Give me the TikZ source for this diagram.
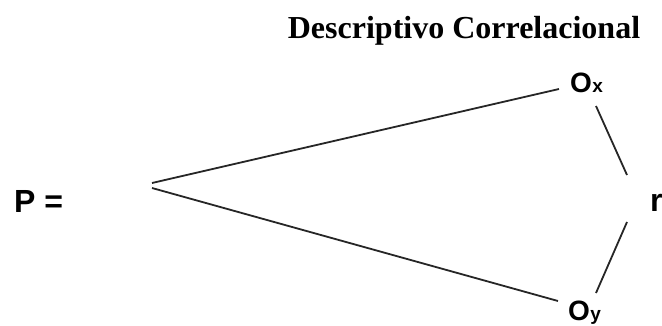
\documentclass[tikz,border=0pt]{standalone}
\usepackage{fontspec}
\setmainfont{Liberation Serif}
\newfontfamily\arialf{Liberation Sans}
\begin{document}
\begin{tikzpicture}[x=1pt,y=1pt,
  lbl/.style={inner sep=0pt, anchor=base west, font=\arialf\bfseries\fontsize{28}{30}\selectfont},
  big/.style={inner sep=0pt, anchor=base west, font=\arialf\bfseries\fontsize{32}{34}\selectfont},
  sub/.style={inner sep=0pt, anchor=base west, font=\arialf\bfseries\fontsize{19}{21}\selectfont},
  ln/.style={line width=1.8pt, draw=black!85}]
\useasboundingbox (0,0) rectangle (662,325);
\node[inner sep=0pt, anchor=base, font=\bfseries\fontsize{32}{34}\selectfont] (title) at (464,287) {Descriptivo Correlacional};
\node[big] (P) at (14,113) {P =};
\node[big] (r) at (650,114) {r};
\node[lbl] (Ox) at (570,233) {O};
\node[sub] (x) at (Ox.base east) {x};
\node[lbl] (Oy) at (568,5) {O};
\node[sub] (y) at (Oy.base east) {y};
\coordinate (apexA) at (152,142);
\coordinate (apexB) at (152,137);
\coordinate (ox1) at (559,236);
\coordinate (oy1) at (558,24);
\coordinate (oxr) at (596,219);
\coordinate (rtop) at (627,150);
\coordinate (rbot) at (627,103);
\coordinate (oyr) at (596,32);
\draw[ln] (apexA) -- (ox1);
\draw[ln] (apexB) -- (oy1);
\draw[ln] (oxr) -- (rtop);
\draw[ln] (rbot) -- (oyr);
\end{tikzpicture}
\end{document}
